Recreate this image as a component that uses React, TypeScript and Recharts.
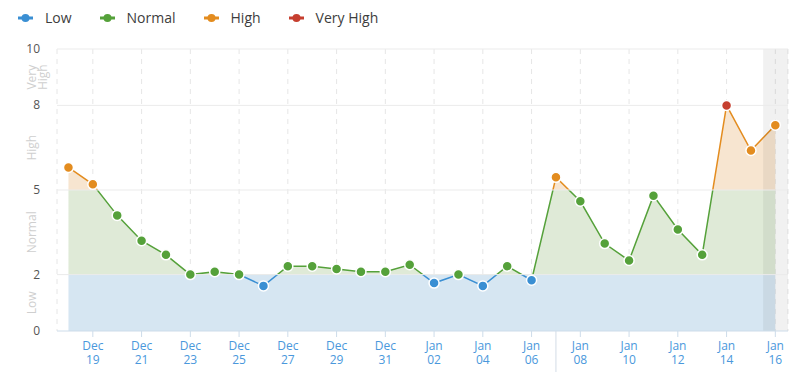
import React from 'react';
import { ComposedChart, Area, XAxis, YAxis, CartesianGrid, ReferenceArea, ReferenceLine } from 'recharts';

const dates = [
    'Dec 18', 'Dec 19', 'Dec 20', 'Dec 21', 'Dec 22', 'Dec 23', 'Dec 24', 'Dec 25', 'Dec 26', 'Dec 27',
    'Dec 28', 'Dec 29', 'Dec 30', 'Dec 31', 'Jan 01', 'Jan 02', 'Jan 03', 'Jan 04', 'Jan 05', 'Jan 06',
    'Jan 07', 'Jan 08', 'Jan 09', 'Jan 10', 'Jan 11', 'Jan 12', 'Jan 13', 'Jan 14', 'Jan 15', 'Jan 16',
];
const volatility = [
    5.8, 5.2, 4.1, 3.2, 2.7, 2.0, 2.1, 2.0, 1.6, 2.3,
    2.3, 2.2, 2.1, 2.1, 2.35, 1.7, 2.0, 1.6, 2.3, 1.8,
    5.45, 4.6, 3.1, 2.5, 4.8, 3.6, 2.7, 8.0, 6.4, 7.3,
];
const xTicks = [1, 3, 5, 7, 9, 11, 13, 15, 17, 19, 21, 23, 25, 27, 29];
const yTicks = [0, 1, 2, 3.5, 5, 6.5, 8, 9, 10];
const bandLabels: Record<string, string[]> = { '1': ['Low'], '3.5': ['Normal'], '6.5': ['High'], '9': ['Very', 'High'] };
const levels = [
    { name: 'Low', from: 0, to: 2, color: '#3a8fd3', fill: '#d6e6f2' },
    { name: 'Normal', from: 2, to: 5, color: '#55a13a', fill: '#dfead7' },
    { name: 'High', from: 5, to: 8, color: '#e38c1f', fill: '#f7e5d0' },
    { name: 'Very High', from: 8, to: 10, color: '#c63f2f', fill: '#f3d6d2' },
];
const separatorDay = 20;
const todayStart = 28.5;

const data = dates.map((d, i) => ({ i, date: d, value: volatility[i] }));

const levelOf = (v: number) => levels.find((l) => v >= l.from && v < l.to) || levels[levels.length - 1];

const maxV = Math.max(...volatility);
const minV = Math.min(...volatility, 2);
const off = (v: number) => Math.min(1, Math.max(0, (maxV - v) / (maxV - minV)));

const XTick = (props: any) => {
    const { x, y, payload } = props;
    const [m, d] = dates[payload.value].split(' ');
    return (
        <text x={x} y={y} textAnchor="middle" fill="#4a98dc" fontSize={12} fontFamily="Open Sans">
            <tspan x={x} dy={11}>{m}</tspan>
            <tspan x={x} dy={14}>{d}</tspan>
        </text>
    );
};

const YTick = (props: any) => {
    const { y, payload } = props;
    const label = bandLabels[String(payload.value)];
    if (label) {
        const cx = 32;
        return (
            <text transform={`rotate(-90, ${cx}, ${y})`} x={cx} y={y} textAnchor="middle" fill="#cfcfcf" fontSize={12} fontFamily="Open Sans">
                {label.map((l, k) => (
                    <tspan key={k} x={cx} dy={k === 0 ? 4 : 11}>{l}</tspan>
                ))}
            </text>
        );
    }
    return (
        <text x={40} y={y} dy={4} textAnchor="end" fill="#555" fontSize={12} fontFamily="Open Sans">
            {payload.value}
        </text>
    );
};

const Dot = (props: any) => {
    const { cx, cy, payload } = props;
    if (cx == null || cy == null) return null;
    return <circle key={payload.i} cx={cx} cy={cy} r={5} fill={levelOf(payload.value).color} stroke="#fff" strokeWidth={1.5} />;
};

const Separator = (props: any) => {
    const bottom = Math.max(props.y1, props.y2);
    return <line x1={props.x1} x2={props.x1} y1={bottom} y2={bottom + 41} stroke="#d3dce6" strokeWidth={1} />;
};

export default function App() {
    return (
        <div style={{ position: 'absolute', left: 0, top: 0, width: 800, height: 372, background: '#fff', fontFamily: 'Open Sans' }}>
            <div style={{ position: 'absolute', left: 18, top: 8, display: 'flex', alignItems: 'center', fontSize: 14, color: '#3d3d3d' }}>
                {levels.map((l) => (
                    <div key={l.name} style={{ display: 'flex', alignItems: 'center', marginRight: 28 }}>
                        <svg width={15} height={10} style={{ marginRight: 12 }}>
                            <line x1={0} x2={15} y1={5} y2={5} stroke={l.color} strokeWidth={3} />
                            <circle cx={7.5} cy={5} r={4} fill={l.color} />
                        </svg>
                        <span>{l.name}</span>
                    </div>
                ))}
            </div>
            <ComposedChart width={800} height={372} data={data} margin={{ top: 49, right: 12, bottom: 0, left: 0 }}>
                <defs>
                    <linearGradient id="strokeGrad" x1="0" y1="0" x2="0" y2="1">
                        <stop offset={off(8)} stopColor={levels[3].color} />
                        <stop offset={off(8)} stopColor={levels[2].color} />
                        <stop offset={off(5)} stopColor={levels[2].color} />
                        <stop offset={off(5)} stopColor={levels[1].color} />
                        <stop offset={off(2)} stopColor={levels[1].color} />
                        <stop offset={off(2)} stopColor={levels[0].color} />
                    </linearGradient>
                    <linearGradient id="fillGrad" x1="0" y1="0" x2="0" y2="1">
                        <stop offset={off(8)} stopColor={levels[3].fill} />
                        <stop offset={off(8)} stopColor={levels[2].fill} />
                        <stop offset={off(5)} stopColor={levels[2].fill} />
                        <stop offset={off(5)} stopColor={levels[1].fill} />
                        <stop offset={off(2)} stopColor={levels[1].fill} />
                        <stop offset={off(2)} stopColor={levels[0].fill} stopOpacity={0} />
                    </linearGradient>
                </defs>
                <CartesianGrid horizontal={false} strokeDasharray="5 5" stroke="#e6e6e6" />
                <XAxis
                    dataKey="i"
                    type="number"
                    domain={[-0.47, 29.52]}
                    ticks={xTicks}
                    interval={0}
                    height={41}
                    tick={<XTick />}
                    axisLine={{ stroke: '#cddcea' }}
                    tickLine={{ stroke: '#cddcea' }}
                    tickSize={6}
                    allowDataOverflow
                />
                <YAxis
                    type="number"
                    domain={[0, 10]}
                    ticks={yTicks}
                    interval={0}
                    width={57}
                    axisLine={false}
                    tickLine={false}
                    tick={<YTick />}
                />
                <ReferenceArea x1={0} x2={29} y1={0} y2={2} fill={levels[0].fill} fillOpacity={1} stroke="none" />
                {[2, 5, 8, 10].map((v) => (
                    <ReferenceLine key={v} y={v} stroke="#ebebeb" />
                ))}
                <Area
                    type="linear"
                    dataKey="value"
                    baseValue={2}
                    stroke="url(#strokeGrad)"
                    strokeWidth={1.5}
                    fill="url(#fillGrad)"
                    fillOpacity={1}
                    dot={Dot}
                    activeDot={false}
                    isAnimationActive={false}
                />
                <ReferenceArea x1={todayStart} y1={0} y2={10} fill="#000" fillOpacity={0.055} stroke="none" />
                <ReferenceLine x={separatorDay} stroke="none" shape={Separator} />
            </ComposedChart>
        </div>
    );
}
